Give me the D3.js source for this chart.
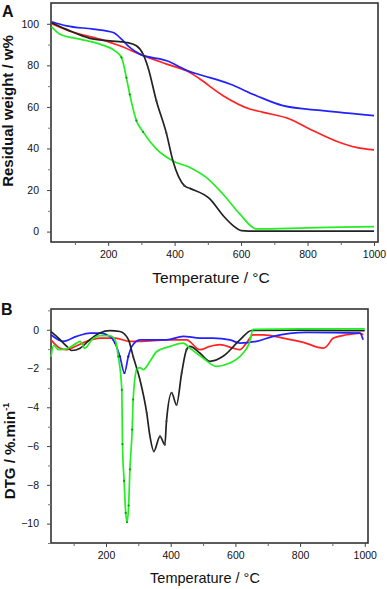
<!DOCTYPE html>
<html><head><meta charset="utf-8">
<script src="https://cdnjs.cloudflare.com/ajax/libs/d3/7.8.5/d3.min.js"></script>
<style>body{margin:0;background:#fff}svg{display:block}text{font-family:"Liberation Sans",Arial,sans-serif}</style>
</head><body><svg id="c" width="387" height="589"></svg>
<script>
// ---------- Panel A (TG) ----------
const tA_black = [30,75,145,205,255,285,305,320,345,375,395,430,446,506,546,576,601,650,800,1000];
const wA_black = [100.5,97.3,93,91.8,91,89.4,85.4,79,63,47.5,34,22,20.8,15.7,7.7,2.9,0.5,0.2,0.2,0.2];
const tA_green = [30,55,115,175,220,240,255,265,285,305,345,395,446,496,546,596,646,800,1000];
const wA_green = [98.5,95,92.6,90.2,87,83.8,74,66,53.4,48,39.8,34,30.9,26,18,8.5,1.3,1.8,2.4];
const tA_red = [30,85,175,235,295,376,446,476,546,626,666,746,806,887,947,1000];
const wA_red = [100,96.4,92.6,89.4,85.4,80.6,76.6,73.4,65.4,59,57.4,54.2,49.4,43.5,40.5,39.3];
const tA_blue = [30,75,155,215,240,265,295,376,446,476,566,646,726,846,1000];
const wA_blue = [101,99,97.4,95.8,92.6,88.6,85.4,82.2,77,75.5,71,65.4,60.6,58.2,55.8];

// ---------- Panel B (DTG) ----------
const tB_black = [30,53,79,94,120,151,181,212,243,269,284,305,326,336,348,367,382,387,403,418,434,449,459,490,521,562,614,650,800,1000];
const dB_black = [-0.1,-0.43,-0.86,-1.07,-0.95,-0.5,-0.17,-0.05,-0.09,-0.5,-1.38,-2.58,-4.3,-5.5,-6.27,-5.5,-5.93,-4.72,-3.26,-3.87,-2.23,-1.03,-0.86,-1.2,-1.63,-1.37,-0.52,-0.04,-0.02,-0.05];
const tB_green = [30,38,53,79,109,120,135,156,181,212,228,238,249,251,256,261,265,270,274,281,284,295,305,315,336,357,398,439,459,500,541,583,624,643,655,800,1000];
const dB_green = [-1.4,-0.8,-1.03,-0.98,-0.69,-0.6,-0.95,-0.52,-0.31,-0.31,-0.52,-1.38,-3.1,-5.9,-7.8,-9.45,-9.93,-9.07,-7.2,-5.15,-3.6,-2.06,-1.95,-2.06,-1.63,-1.12,-0.86,-0.69,-0.95,-1.46,-1.89,-1.72,-1.2,-0.69,0.02,0.05,0.05];
const tB_blue = [30,68,109,151,181,212,228,243,257,269,280,305,387,439,490,531,583,614,665,717,820,985,995];
const dB_blue = [-0.26,-0.6,-0.34,-0.17,-0.17,-0.34,-0.69,-1.38,-2.23,-1.38,-0.86,-0.52,-0.52,-0.34,-0.43,-0.43,-0.52,-0.69,-0.6,-0.34,-0.14,-0.17,-0.52];
const tB_red = [30,58,79,104,140,181,228,274,305,387,449,490,521,552,593,614,634,655,686,748,810,872,882,903,944,985,995];
const dB_red = [-0.52,-0.95,-1.03,-0.86,-0.6,-0.43,-0.43,-0.6,-0.6,-0.52,-0.52,-1.03,-0.86,-0.77,-0.95,-1.03,-0.69,-0.26,-0.26,-0.43,-0.65,-0.95,-0.86,-0.43,-0.26,-0.17,-0.26];

const xTicksMajor = [200,400,600,800,1000];
const xTicksMinor = [100,300,500,700,900];
const yTicksA = [0,20,40,60,80,100];
const yMinorA = [10,30,50,70,90];
const yTicksB = [0,-2,-4,-6,-8,-10];
const yMinorB = [1,-1,-3,-5,-7,-9,-11];

const COLORS = {black:"#222222", green:"#22ee22", red:"#ff2222", blue:"#2222ff"};
const DOTS = {black:"#444", green:"#119911", blue:"#1111aa"};

const svg = d3.select("#c");

function panel(cfg){
  const x = d3.scaleLinear().domain(cfg.xd).range([cfg.l, cfg.r]);
  const y = d3.scaleLinear().domain(cfg.yd).range([cfg.b, cfg.t]);
  const g = svg.append("g");
  // frame
  g.append("rect").attr("x",cfg.l).attr("y",cfg.t).attr("width",cfg.r-cfg.l).attr("height",cfg.b-cfg.t)
    .attr("fill","none").attr("stroke","#333").attr("stroke-width",1.6);
  // x axis
  const xa = g.append("g").attr("transform",`translate(0,${cfg.b})`)
    .call(d3.axisBottom(x).tickValues(xTicksMajor).tickSize(4).tickFormat(d3.format("d")));
  xa.select(".domain").remove();
  xa.selectAll("text").attr("font-size",10.5).attr("fill","#111").attr("dy","0.71em").attr("y",cfg.xlabY);
  xa.selectAll("line").attr("stroke","#444");
  const xm = g.append("g").attr("transform",`translate(0,${cfg.b})`)
    .call(d3.axisBottom(x).tickValues(xTicksMinor).tickSize(3).tickFormat(""));
  xm.select(".domain").remove(); xm.selectAll("line").attr("stroke","#666");
  // y axis
  const ya = g.append("g").attr("transform",`translate(${cfg.l},0)`)
    .call(d3.axisLeft(y).tickValues(cfg.yt).tickSize(4).tickPadding(8).tickFormat(d3.format("d")));
  ya.select(".domain").remove();
  ya.selectAll("text").attr("font-size",10.5).attr("fill","#111");
  ya.selectAll("line").attr("stroke","#444");
  const ym = g.append("g").attr("transform",`translate(${cfg.l},0)`)
    .call(d3.axisLeft(y).tickValues(cfg.ym).tickSize(3).tickFormat(""));
  ym.select(".domain").remove(); ym.selectAll("line").attr("stroke","#777");

  const line = d3.line().x(d=>x(d[0])).y(d=>y(d[1])).curve(d3.curveMonotoneX);
  cfg.series.forEach(s=>{
    const pts = s.t.map((t,i)=>[t,s.v[i]]);
    g.append("path").attr("d",line(pts)).attr("fill","none").attr("stroke",COLORS[s.c])
      .attr("stroke-width",1.7).attr("stroke-linejoin","round");
    if (s.dots){
      g.selectAll(null).data(pts.filter(p=>p[0]>=s.dots[0]&&p[0]<=s.dots[1])).enter()
        .append("circle").attr("cx",p=>x(p[0])).attr("cy",p=>y(p[1])).attr("r",1.1)
        .attr("fill",DOTS[s.c]);
    }
  });
  // titles
  g.append("text").attr("x",cfg.xtX).attr("y",cfg.xtY).attr("text-anchor","middle")
    .attr("font-size",cfg.xtS).attr("fill","#111").text("Temperature / °C");
  const yt = g.append("text").attr("transform",`translate(${cfg.ytX},${cfg.ytY}) rotate(-90)`)
    .attr("text-anchor","middle").attr("font-size",15).attr("font-weight","bold").attr("fill","#111");
  cfg.ytitle(yt);
  g.append("text").attr("x",cfg.lx).attr("y",cfg.ly).attr("font-size",16).attr("font-weight","bold")
    .attr("fill","#111").text(cfg.letter);
}

panel({l:51,r:378,t:3,b:242,xd:[28,1012],yd:[-5,110],yt:yTicksA,ym:yMinorA,xlabY:9,
  xtX:211,xtY:283,xtS:15.5,ytX:13,ytY:111,letter:"A",lx:2,ly:17,
  ytitle:t=>t.text("Residual weight / w%"),
  series:[
    {t:tA_red,v:wA_red,c:"red"},
    {t:tA_blue,v:wA_blue,c:"blue"},
    {t:tA_green,v:wA_green,c:"green",dots:[240,330]},
    {t:tA_black,v:wA_black,c:"black",dots:[300,440]}
  ]});

panel({l:51,r:368,t:309,b:543,xd:[30,1010],yd:[-11,1.07],yt:yTicksB,ym:yMinorB,xlabY:9,
  xtX:205,xtY:583,xtS:14.5,ytX:15,ytY:451,letter:"B",lx:1,ly:315,
  ytitle:t=>{t.append("tspan").text("DTG / %.min");t.append("tspan").attr("dy",-6).attr("font-size",9).text("-1");},
  series:[
    {t:tB_red,v:dB_red,c:"red"},
    {t:tB_blue,v:dB_blue,c:"blue",dots:[228,275]},
    {t:tB_black,v:dB_black,c:"black",dots:[280,455]},
    {t:tB_green,v:dB_green,c:"green",dots:[238,300]}
  ]});
</script></body></html>
